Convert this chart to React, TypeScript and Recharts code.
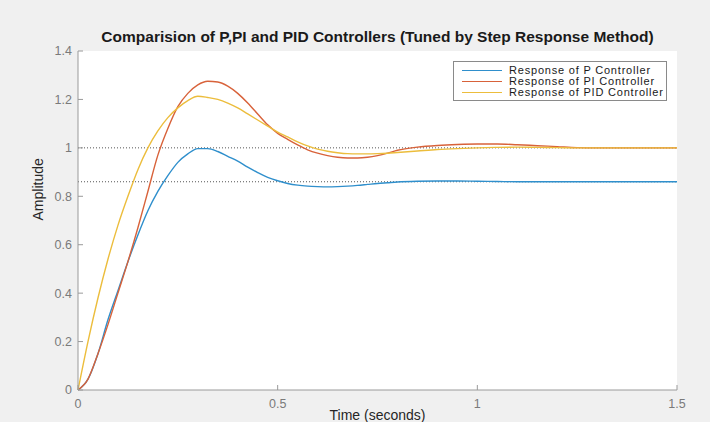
import {
  CartesianGrid,
  Line,
  LineChart,
  ReferenceLine,
  XAxis,
  YAxis,
} from "recharts";

const time = [
  0, 0.025, 0.05, 0.075, 0.1, 0.125, 0.15, 0.175, 0.2, 0.225, 0.25, 0.275,
  0.3, 0.325, 0.35, 0.375, 0.4, 0.425, 0.45, 0.475, 0.5, 0.525, 0.55, 0.575,
  0.6, 0.625, 0.65, 0.675, 0.7, 0.725, 0.75, 0.775, 0.8, 0.85, 0.9, 0.95, 1.0,
  1.05, 1.1, 1.15, 1.2, 1.25, 1.3, 1.35, 1.4, 1.45, 1.5,
];

const pResponse = [
  0, 0.045, 0.15, 0.29, 0.41, 0.53, 0.64, 0.74, 0.82, 0.885, 0.94, 0.975,
  0.997, 0.997, 0.985, 0.965, 0.945, 0.92, 0.898, 0.878, 0.864, 0.853, 0.846,
  0.842, 0.84, 0.839, 0.84, 0.842, 0.845, 0.849, 0.853, 0.856, 0.859, 0.862,
  0.863, 0.863, 0.862, 0.861, 0.86, 0.86, 0.86, 0.86, 0.86, 0.86, 0.86, 0.86,
  0.86,
];

const piResponse = [
  0, 0.045, 0.15, 0.27, 0.4, 0.53, 0.67, 0.82, 0.97, 1.08, 1.17, 1.225, 1.26,
  1.275, 1.272, 1.255, 1.225, 1.185, 1.14, 1.095, 1.06, 1.035, 1.012, 0.992,
  0.978, 0.968, 0.961, 0.958, 0.958, 0.961, 0.968, 0.978, 0.99, 1.003, 1.01,
  1.014, 1.016, 1.016, 1.013, 1.009, 1.005, 1.001, 1.0, 1.0, 1.0, 1.0, 1.0,
];

const pidResponse = [
  0, 0.2, 0.38, 0.54, 0.68, 0.8, 0.91, 1.0, 1.07, 1.125, 1.165, 1.195, 1.213,
  1.208, 1.2, 1.185, 1.165, 1.14, 1.115, 1.09, 1.065, 1.045, 1.025, 1.008,
  0.995, 0.986, 0.98, 0.976, 0.975, 0.975, 0.976, 0.978, 0.981, 0.987, 0.993,
  0.997, 1.0, 1.002, 1.003, 1.002, 1.001, 1.0, 1.0, 1.0, 1.0, 1.0, 1.0,
];

const xTicks = [0, 0.5, 1, 1.5];
const yTicks = [0, 0.2, 0.4, 0.6, 0.8, 1, 1.2, 1.4];
const steadyStates = [1, 0.86];

const series = [
  { key: "p", name: "Response of P Controller", color: "#2f8fcc" },
  { key: "pi", name: "Response of PI Controller", color: "#d8623a" },
  { key: "pid", name: "Response of PID Controller", color: "#ecbd3c" },
];

const data = time.map((t, i) => ({
  t,
  p: pResponse[i],
  pi: piResponse[i],
  pid: pidResponse[i],
}));

const font = "'Liberation Sans', Arial, sans-serif";
const axisColor = "#9a9a9a";
const tickText = { fill: "#7a7a7a", fontSize: 12.5, fontFamily: font };

function App() {
  return (
    <div
      style={{
        position: "fixed",
        left: 0,
        top: 0,
        width: 710,
        height: 422,
        background: "#f0f0f0",
        fontFamily: font,
      }}
    >
      <div
        style={{
          position: "absolute",
          left: 78,
          width: 599,
          top: 28,
          textAlign: "center",
          fontWeight: "bold",
          fontSize: 15.5,
          color: "#1a1a1a",
          whiteSpace: "nowrap",
        }}
      >
        Comparision of P,PI and PID Controllers (Tuned by Step Response Method)
      </div>

      <LineChart
        width={710}
        height={422}
        data={data}
        margin={{ top: 51, right: 33, bottom: 0, left: 0 }}
      >
        <CartesianGrid
          horizontal={false}
          vertical={false}
          fill="#ffffff"
        />

        <XAxis
          dataKey="t"
          type="number"
          domain={[0, 1.5]}
          ticks={xTicks}
          height={32}
          stroke={axisColor}
          tickSize={-5}
          tickMargin={14}
          tick={tickText}
          label={{
            value: "Time (seconds)",
            position: "insideBottom",
            offset: 2,
            fill: "#262626",
            fontSize: 14,
            fontFamily: font,
          }}
        />
        <XAxis
          xAxisId="top"
          orientation="top"
          dataKey="t"
          type="number"
          domain={[0, 1.5]}
          ticks={xTicks}
          height={0}
          stroke={axisColor}
          tickSize={-5}
          tick={false}
        />

        <YAxis
          type="number"
          domain={[0, 1.4]}
          ticks={yTicks}
          width={78}
          stroke={axisColor}
          tickSize={-5}
          tickMargin={11}
          tick={tickText}
          label={{
            value: "Amplitude",
            angle: -90,
            position: "insideLeft",
            offset: 38,
            fill: "#262626",
            fontSize: 14,
            fontFamily: font,
          }}
        />
        <YAxis
          yAxisId="right"
          orientation="right"
          type="number"
          domain={[0, 1.4]}
          ticks={yTicks}
          width={0}
          stroke={axisColor}
          tickSize={-5}
          tick={false}
        />

        {steadyStates.map((v) => (
          <ReferenceLine
            key={v}
            y={v}
            stroke="#555555"
            strokeDasharray="1 2"
          />
        ))}

        {series.map((s) => (
          <Line
            key={s.key}
            type="monotone"
            dataKey={s.key}
            name={s.name}
            stroke={s.color}
            strokeWidth={1.4}
            dot={false}
            isAnimationActive={false}
          />
        ))}
      </LineChart>

      <div
        style={{
          position: "absolute",
          left: 453,
          top: 61,
          width: 214,
          height: 40,
          boxSizing: "border-box",
          background: "#ffffff",
          border: "1px solid #8a8a8a",
          padding: "3px 0 0 8px",
        }}
      >
        {series.map((s) => (
          <div
            key={s.key}
            style={{
              display: "flex",
              alignItems: "center",
              height: 11,
              fontSize: 11,
              lineHeight: "11px",
              letterSpacing: 0.8,
              color: "#1a1a1a",
              whiteSpace: "nowrap",
            }}
          >
            <span
              style={{
                display: "inline-block",
                width: 40,
                height: 0,
                borderTop: `1.3px solid ${s.color}`,
                marginRight: 7,
              }}
            />
            {s.name}
          </div>
        ))}
      </div>
    </div>
  );
}

export default App;
